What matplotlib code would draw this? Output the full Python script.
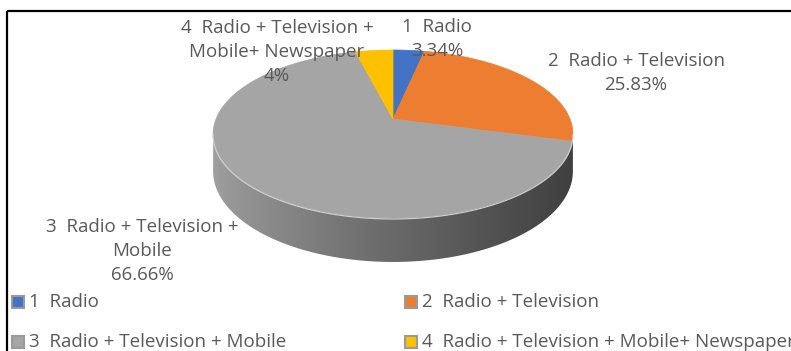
import numpy as np
import matplotlib.pyplot as plt
from matplotlib.patches import Polygon, Rectangle
from matplotlib.colors import to_rgb

categories = ['1  Radio', '2  Radio + Television', '3  Radio + Television + Mobile',
              '4  Radio + Television + Mobile+ Newspaper']
label_texts = ['1  Radio', '2  Radio + Television', '3  Radio + Television +\nMobile',
               '4  Radio + Television +\nMobile+ Newspaper']
percent_labels = ['3.34%', '25.83%', '66.66%', '4%']
values = [3.34, 25.83, 66.66, 4.0]
colors = ['#4472C4', '#ED7D31', '#A5A5A5', '#FFC000']

plt.rcParams['font.family'] = ['Open Sans', 'DejaVu Sans']
txt_color = '#595959'

W, H = 791, 351
fig = plt.figure(figsize=(W / 100, H / 100), dpi=100)
ax = fig.add_axes([0, 0, 1, 1])
ax.set_xlim(0, W)
ax.set_ylim(H, 0)
ax.axis('off')

# perspective pie: apex, far/near y, radius
cx, apex_y = 393, 119
k = 0.1786
b = -60.07
R = 177
d0 = 36.1


def proj(phi):
    # phi measured clockwise from 12 o'clock, degrees
    t = np.radians(phi)
    s, c = np.sin(t), np.cos(t)
    den = 1 + k * c
    return cx + R * s / den, (apex_y + b * c) / den, d0 / den


# side (visible front part)
phi_l = 360 - np.degrees(np.arccos(-k))
phi_r = np.degrees(np.arccos(-k))
ph = np.linspace(phi_r, phi_l, 300)
xs, ys, ds = proj(ph)
side = np.vstack([np.column_stack([xs, ys]), np.column_stack([xs[::-1], (ys + ds)[::-1]])])
side_poly = Polygon(side, closed=True, facecolor='none', edgecolor='none')
ax.add_patch(side_poly)
left_c = np.array(to_rgb('#a0a0a0'))
right_c = np.array(to_rgb('#404040'))
tt = np.linspace(0, 1, 256) ** 0.8
grad = (left_c[None, :] * (1 - tt[:, None]) + right_c[None, :] * tt[:, None])[None, :, :]
im = ax.imshow(grad, extent=[xs.min(), xs.max(), (ys + ds).max(), ys.min() - 2],
               aspect='auto', zorder=1)
im.set_clip_path(side_poly)

# top slices
total = sum(values)
start = 0.0
for v, col in zip(values, colors):
    end = start + v / total * 360
    ph = np.linspace(start, end, 200)
    px, py, _ = proj(ph)
    pts = np.vstack([[cx, apex_y], np.column_stack([px, py])])
    ax.add_patch(Polygon(pts, closed=True, facecolor=col, edgecolor=col, lw=0.5, zorder=2))
    start = end

# rim highlight
ph = np.linspace(phi_r, phi_l, 300)
hx, hy, _ = proj(ph)
ax.plot(hx, hy + 1, color='#cfcfcf', lw=0.9, zorder=3)

# data labels
fs = 13.5
label_pos = [(437, 39), (636, 73), (142, 251), (277, 52)]
for lab, pct, (lx, ly) in zip(label_texts, percent_labels, label_pos):
    ax.text(lx, ly, lab + '\n' + pct, ha='center', va='center', fontsize=fs,
            color=txt_color, linespacing=1.4, zorder=5)

# legend
leg_pos = [(12, 302), (405, 302), (12, 342), (405, 342)]
for name, col, (lx, ly) in zip(categories, colors, leg_pos):
    ax.add_patch(Rectangle((lx, ly - 6), 12, 12, facecolor=col, edgecolor='#9a9a9a',
                           lw=1.5, zorder=4))
    ax.text(lx + 17, ly, name, ha='left', va='center', fontsize=fs, color=txt_color,
            zorder=5)

# frame lines (top and left)
ax.plot([7, W], [11, 11], color='black', lw=1.6, solid_capstyle='butt')
ax.plot([7, 7], [11, H], color='black', lw=1.6, solid_capstyle='butt')

fig.savefig('out.png', dpi=100)
